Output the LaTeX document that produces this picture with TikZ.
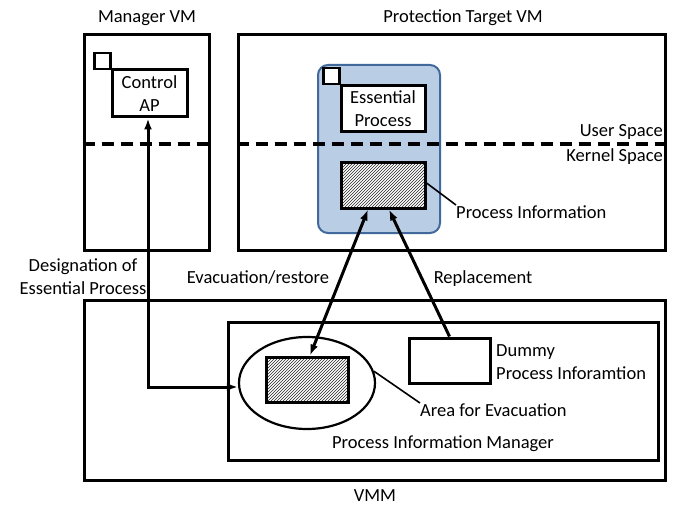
\documentclass[tikz,border=0pt]{standalone}
\usepackage{fontspec}
\setmainfont{Carlito}
\usetikzlibrary{arrows.meta, patterns, positioning, shapes.geometric}
\definecolor{procblue}{HTML}{B9CDE5}
\definecolor{procedge}{HTML}{41699B}
\tikzstyle{vmbox}=[rectangle, draw, line width=3pt]
\tikzstyle{procbox}=[rectangle, draw, fill=white, line width=3pt]
\tikzstyle{tag}=[rectangle, draw, fill=white, line width=2.5pt, minimum size=16pt, inner sep=0pt]
\tikzstyle{infobox}=[rectangle, draw, line width=3pt, preaction={fill=white}, pattern=north east lines, pattern color=black!85]
\tikzstyle{procarea}=[rectangle, rounded corners=10pt, draw=procedge, fill=procblue, line width=2pt]
\tikzstyle{evacarea}=[ellipse, draw, line width=2.2pt]
\tikzstyle{spaceline}=[line width=3pt, dash pattern=on 12pt off 7pt]
\tikzstyle{leader}=[line width=1.6pt]
\tikzstyle{flow}=[line width=3pt]
\tikzstyle{caption}=[inner sep=0pt]
\begin{document}
\begin{tikzpicture}[x=1pt, y=-1pt, >={Latex[length=11pt, width=8pt]}, font=\fontsize{18.5}{23}\selectfont]
  \useasboundingbox (0,0) rectangle (677,516);
  % virtual machines
  \node[vmbox, minimum width=125pt, minimum height=215pt] (mgr) at (146.5,142.5) {};
  \node[vmbox, minimum width=427pt, minimum height=215pt] (tgt) at (451.5,142.5) {};
  \node[caption, anchor=base] (mgrtitle) at (147,23) {Manager VM};
  \node[caption, anchor=base] (tgttitle) at (463,23) {Protection Target VM};
  % control AP
  \node[procbox, minimum width=75pt, minimum height=47pt, align=center] (ctrl) at (149.5,93.5) {Control\\AP};
  \node[tag, anchor=south east] (ctrltag) at ([shift={(1,2)}]ctrl.north west) {};
  % essential process
  \node[procarea, minimum width=122pt, minimum height=168pt] (area) at (379,149) {};
  \node[procbox, minimum width=84pt, minimum height=46pt, align=center] (ess) at (383,109) {Essential\\Process};
  \node[tag, anchor=south east] (esstag) at ([shift={(1,1)}]ess.north west) {};
  \node[infobox, minimum width=84pt, minimum height=46pt] (pinfo) at (383,185) {};
  % user / kernel border
  \coordinate (split) at (0,144);
  \draw[spaceline] (mgr.west |- split) -- (mgr.east |- split);
  \draw[spaceline] (tgt.west |- split) -- (tgt.east |- split);
  \node[caption, anchor=base east] (userlbl) at (663,136) {User Space};
  \node[caption, anchor=base east] (kernlbl) at (663,161) {Kernel Space};
  \node[caption, anchor=base west] (pinfolbl) at (456,218) {Process Information};
  \draw[leader] ([yshift=2pt]pinfo.east) -- (pinfolbl.north west);
  % hypervisor
  \node[vmbox, minimum width=581pt, minimum height=180pt] (vmm) at (374.5,390) {};
  \node[caption, anchor=base] (vmmtitle) at (375,501) {VMM};
  \node[vmbox, minimum width=430pt, minimum height=138pt] (pim) at (443,391) {};
  \node[caption, anchor=base] (pimlbl) at (443,448) {Process Information Manager};
  \node[evacarea, minimum width=136pt, minimum height=92pt] (evac) at (307,383) {};
  \node[infobox, minimum width=82pt, minimum height=45pt] (saved) at (307,379.5) {};
  \node[procbox, minimum width=81pt, minimum height=45pt] (dummy) at (449.5,360.5) {};
  \node[caption, anchor=west, align=left] (dummylbl) at (496,362.5) {Dummy\\Process Inforamtion};
  \node[caption, anchor=base west] (evaclbl) at (420,416) {Area for Evacuation};
  \draw[leader] (evac.10) -- (evaclbl.north west);
  % transfers
  \draw[flow, <->] ([xshift=-15pt]pinfo.south) -- ([xshift=3pt]saved.north);
  \draw[flow, ->] (dummy.north) -- ([xshift=6pt]pinfo.south);
  \draw[flow, <->] ([xshift=-1.5pt]ctrl.south) |- ([yshift=-4pt]evac.west);
  \node[caption, anchor=base] (evaclink) at (258,283) {Evacuation/restore};
  \node[caption, anchor=base] (repllink) at (483,283) {Replacement};
  \node[caption, align=center] (desiglink) at (83,277) {Designation of\\Essential Process};
\end{tikzpicture}
\end{document}
